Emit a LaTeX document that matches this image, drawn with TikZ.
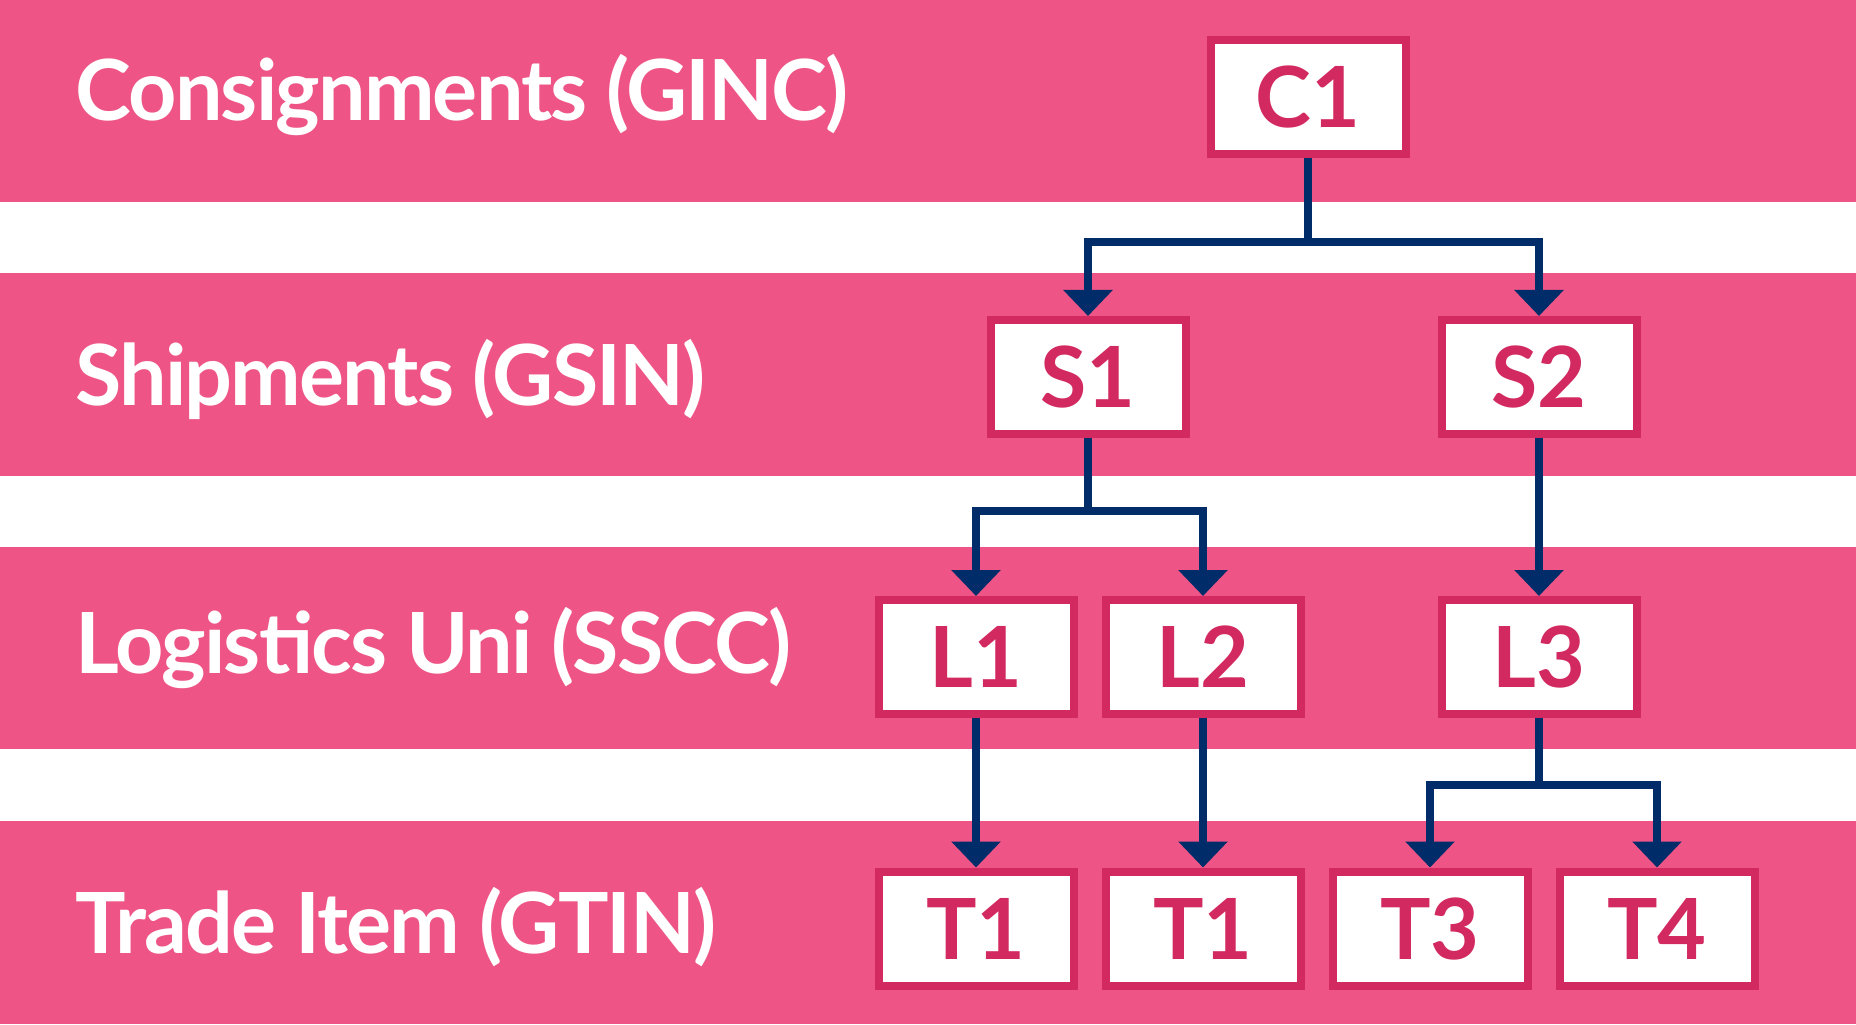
\documentclass[tikz,border=0pt]{standalone}
\usepackage{fontspec}
\setmainfont{Lato}
\usepackage{xcolor}
\usepackage{tikz}
\usetikzlibrary{arrows.meta,positioning}

\definecolor{bandpink}{HTML}{EE5586}
\definecolor{boxpink}{HTML}{D22A60}
\definecolor{navy}{HTML}{002D6A}

\begin{document}
\begin{tikzpicture}[
        band/.style={fill=bandpink},
        lvl/.style={anchor=base west, inner sep=0pt, text=white,
                    font=\bfseries\fontsize{48}{58}\selectfont\addfontfeature{LetterSpace=-2.2}},
        unit/.style={draw=boxpink, line width=0.16cm, fill=white, inner sep=0pt,
                     minimum width=3.9cm, minimum height=2.28cm, text=boxpink,
                     font=\bfseries\fontsize{48}{58}\selectfont},
        arr/.style={-{Triangle[width=0.96cm,length=0.52cm]}, navy, line width=0.16cm},
        line/.style={navy, line width=0.16cm}
    ]
        \useasboundingbox (0,0) rectangle (37.12,20.48);

        % ── Level bands ──────────────────────────────────────────────────
        \fill[band] (0,16.44) rectangle (37.12,20.48);
        \fill[band] (0,10.96) rectangle (37.12,15.02);
        \fill[band] (0, 5.50) rectangle (37.12, 9.54);
        \fill[band] (0, 0)    rectangle (37.12, 4.06);

        % ── Level labels (left) ──────────────────────────────────────────
        \node[lvl] (consig) at (1.5,18.06) {Consignments (GINC)};
        \node[lvl] (ship)   at (1.5,12.36) {Shipments (GSIN)};
        \node[lvl] (logi)   at (1.5, 7.02) {Logistics Uni (SSCC)};
        \node[lvl] (trade)  at (1.5, 1.42) {Trade Item (GTIN)};

        % ── Units ────────────────────────────────────────────────────────
        \node[unit] (C1) at (26.16,18.54) {C1};
        \node[unit] (S1) at (21.76,12.94) {S1};
        \node[unit] (S2) at (30.78,12.94) {S2};
        \node[unit] (L1) at (19.52, 7.34) {L1};
        \node[unit] (L2) at (24.06, 7.34) {L2};
        \node[unit] (L3) at (30.78, 7.34) {L3};
        \node[unit] (T1) at (19.52, 1.91) {T1};
        \node[unit] (T2) at (24.06, 1.91) {T1};
        \node[unit] (T3) at (28.60, 1.91) {T3};
        \node[unit] (T4) at (33.14, 1.91) {T4};

        % ── Branch points ────────────────────────────────────────────────
        \coordinate (cbus)  at (26.16,15.64);
        \coordinate (s1bus) at (21.76,10.26);
        \coordinate (l3bus) at (30.78, 4.78);

        % ── Consignment -> shipments
        \draw[line] (C1.south) -- (cbus);
        \draw[arr]  (cbus) -| (S1.north);
        \draw[arr]  (cbus) -| (S2.north);

        % ── Shipments -> logistic units
        \draw[line] (S1.south) -- (s1bus);
        \draw[arr]  (s1bus) -| (L1.north);
        \draw[arr]  (s1bus) -| (L2.north);
        \draw[arr]  (S2.south) -- (L3.north);

        % ── Logistic units -> trade items
        \draw[arr]  (L1.south) -- (T1.north);
        \draw[arr]  (L2.south) -- (T2.north);
        \draw[line] (L3.south) -- (l3bus);
        \draw[arr]  (l3bus) -| (T3.north);
        \draw[arr]  (l3bus) -| (T4.north);

    \end{tikzpicture}
\end{document}
